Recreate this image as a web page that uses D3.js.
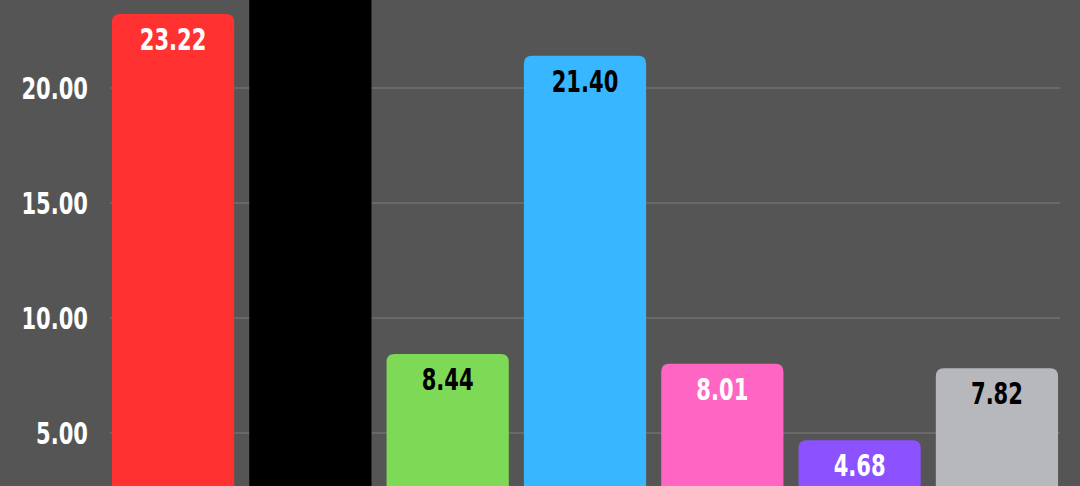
<!DOCTYPE html>
<html>
<head>
<meta charset="utf-8">
<script src="https://cdn.jsdelivr.net/npm/d3@7"></script>
<style>
  html, body { margin: 0; padding: 0; background: #555555; overflow: hidden; }
  svg { display: block; }
  text { font-family: "DejaVu Sans Condensed", "DejaVu Sans", sans-serif; font-weight: bold; }
</style>
</head>
<body>
<script>
// chart data
var categories = ["A", "B", "C", "D", "E", "F", "G"];
var values = [23.22, 26.10, 8.44, 21.40, 8.01, 4.68, 7.82];
var barColors = ["#ff3131", "#000000", "#7ed957", "#38b6ff", "#ff66c4", "#8c52ff", "#b6b8bc"];
var labelColors = ["#ffffff", "#ffffff", "#000000", "#000000", "#ffffff", "#ffffff", "#000000"];
var tickValues = [5, 10, 15, 20];

var w = 1080;
var h = 486;
var zeroY = 548; // baseline sits below the visible area
var radius = 8;
var squeeze = 0.78; // narrow the glyphs to look condensed

var svg = d3.select("body")
    .append("svg")
    .attr("width", w)
    .attr("height", h);

// xScale for the bars
var xScale = d3.scaleBand()
    .domain(categories)
    .range([104.4, 1065.6])
    .paddingInner(0.11)
    .paddingOuter(0.055);

// yScale, 23 px per unit
var yScale = d3.scaleLinear()
    .domain([0, 20])
    .range([zeroY, zeroY - 460]);

var fmt = d3.format(".2f");

// gridlines
svg.append("g")
    .selectAll("line")
    .data(tickValues)
    .enter()
    .append("line")
    .attr("x1", 110)
    .attr("x2", 1060)
    .attr("y1", function(d) { return yScale(d); })
    .attr("y2", function(d) { return yScale(d); })
    .attr("stroke", "#7e7e7e")
    .attr("stroke-width", 1.2);

// y axis labels
svg.append("g")
    .selectAll("text")
    .data(tickValues)
    .enter()
    .append("text")
    .attr("transform", function(d) { return "translate(88," + yScale(d) + ") scale(" + squeeze + ",1)"; })
    .attr("dy", "0.36em")
    .attr("text-anchor", "end")
    .attr("fill", "#ffffff")
    .attr("font-size", 30)
    .text(function(d) { return fmt(d); });

// bar with rounded top corners only
function barPath(x, y, bw, bh, r) {
    return "M" + x + "," + (y + bh) +
        "V" + (y + r) +
        "Q" + x + "," + y + " " + (x + r) + "," + y +
        "H" + (x + bw - r) +
        "Q" + (x + bw) + "," + y + " " + (x + bw) + "," + (y + r) +
        "V" + (y + bh) + "Z";
}

svg.append("g")
    .selectAll("path")
    .data(values)
    .enter()
    .append("path")
    .attr("d", function(d, i) {
        var y = yScale(d);
        return barPath(xScale(categories[i]), y, xScale.bandwidth(), zeroY - y, radius);
    })
    .attr("fill", function(d, i) { return barColors[i]; });

// value labels inside top of bars (the tall black bar's label lies above the frame)
svg.append("g")
    .selectAll("text")
    .data(values)
    .enter()
    .append("text")
    .attr("transform", function(d, i) {
        var x = xScale(categories[i]) + xScale.bandwidth() / 2;
        return "translate(" + x + "," + (yScale(d) + 36) + ") scale(" + squeeze + ",1)";
    })
    .attr("text-anchor", "middle")
    .attr("fill", function(d, i) { return labelColors[i]; })
    .attr("font-size", 30)
    .text(function(d) { return yScale(d) + 36 > 22 ? fmt(d) : ""; });
</script>
</body>
</html>
